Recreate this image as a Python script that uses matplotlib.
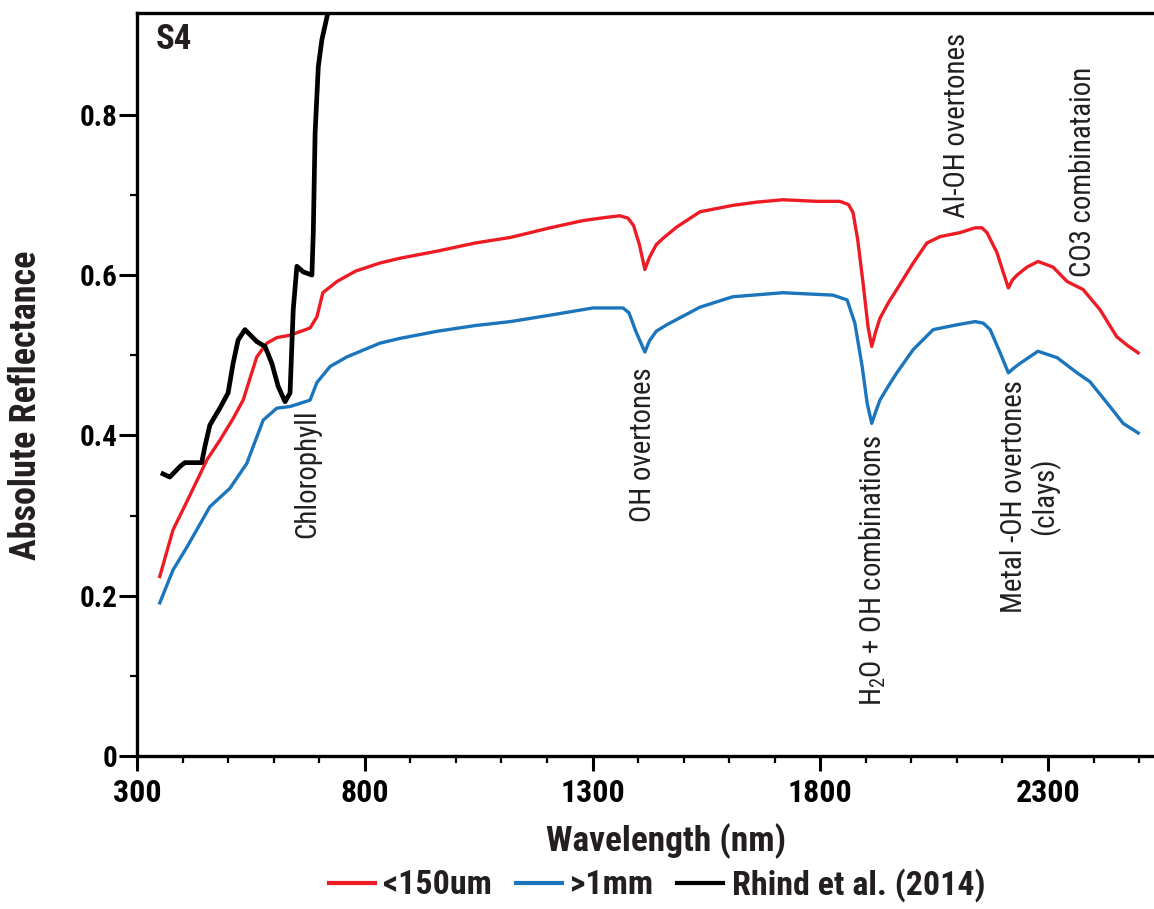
import matplotlib
matplotlib.use("Agg")
import matplotlib.pyplot as plt
from matplotlib import font_manager
from matplotlib.ticker import FixedLocator

# ---- data -------------------------------------------------------------
fine_nm = [350, 379, 410, 454, 482, 511, 533, 563, 585, 607, 636, 680, 695,
           708, 739, 780, 833, 877, 960, 1042, 1120, 1207, 1279, 1330, 1360,
           1378, 1390, 1403, 1415, 1425, 1440, 1455, 1485, 1536, 1608, 1660,
           1718, 1793, 1843, 1862, 1872, 1882, 1894, 1905, 1913, 1922, 1931,
           1950, 1968, 2004, 2034, 2063, 2107, 2140, 2155, 2166, 2188, 2202,
           2213, 2222, 2232, 2254, 2278, 2311, 2342, 2377, 2414, 2451, 2475,
           2498]
fine_refl = [0.224, 0.282, 0.318, 0.370, 0.394, 0.421, 0.444, 0.498, 0.515,
             0.522, 0.525, 0.534, 0.548, 0.578, 0.592, 0.605, 0.615, 0.621,
             0.630, 0.640, 0.647, 0.659, 0.668, 0.672, 0.674, 0.671, 0.662,
             0.638, 0.607, 0.622, 0.638, 0.646, 0.660, 0.679, 0.687, 0.691,
             0.694, 0.692, 0.692, 0.688, 0.678, 0.645, 0.590, 0.535, 0.511,
             0.530, 0.546, 0.566, 0.582, 0.615, 0.640, 0.648, 0.653, 0.659,
             0.659, 0.653, 0.628, 0.603, 0.584, 0.594, 0.600, 0.610, 0.617,
             0.610, 0.592, 0.582, 0.557, 0.523, 0.512, 0.503]

coarse_nm = [350, 379, 410, 460, 504, 541, 577, 607, 636, 680, 695, 724, 761,
             833, 877, 960, 1042, 1120, 1207, 1301, 1367, 1380, 1395, 1415,
             1425, 1440, 1463, 1536, 1608, 1718, 1828, 1859, 1876, 1892, 1903,
             1913, 1922, 1931, 1950, 1968, 2004, 2048, 2100, 2140, 2158, 2173,
             2195, 2213, 2225, 2239, 2278, 2320, 2364, 2392, 2436, 2465, 2498]
coarse_refl = [0.191, 0.232, 0.261, 0.311, 0.334, 0.365, 0.419, 0.434, 0.436,
               0.444, 0.466, 0.486, 0.498, 0.515, 0.521, 0.530, 0.537, 0.542,
               0.550, 0.559, 0.559, 0.553, 0.530, 0.504, 0.518, 0.530, 0.538,
               0.560, 0.573, 0.578, 0.575, 0.569, 0.540, 0.486, 0.440, 0.415,
               0.430, 0.444, 0.462, 0.478, 0.507, 0.532, 0.538, 0.542, 0.540,
               0.532, 0.503, 0.478, 0.484, 0.490, 0.505, 0.497, 0.478, 0.467,
               0.436, 0.415, 0.403]

rhind_nm = [357, 372, 394, 405, 442, 449, 460, 482, 500, 511, 522, 537, 563,
            581, 596, 610, 625, 636, 643, 651, 665, 684, 687, 691, 698, 706,
            719, 730]
rhind_refl = [0.352, 0.348, 0.361, 0.366, 0.366, 0.386, 0.413, 0.434, 0.453,
              0.490, 0.519, 0.532, 0.517, 0.511, 0.490, 0.461, 0.442, 0.453,
              0.557, 0.611, 0.604, 0.600, 0.653, 0.777, 0.860, 0.894, 0.927,
              0.960]

series_labels = ["<150um", ">1mm", "Rhind et al. (2014)"]
series_colors = ["#ED1C24", "#1B75BC", "#000000"]

x_major = [300, 800, 1300, 1800, 2300]
x_minor = [400, 500, 600, 700, 900, 1000, 1100, 1200, 1400, 1500, 1600,
           1700, 1900, 2000, 2100, 2200, 2400, 2500]
y_major = [0, 0.2, 0.4, 0.6, 0.8]
y_major_labels = ["0", "0.2", "0.4", "0.6", "0.8"]
y_minor = [0.1, 0.3, 0.5, 0.7]

# absorption feature labels: (wavelength, top of text, text)
features = [
    (673, 0.432, "Chlorophyll"),
    (1411, 0.485, "OH overtones"),
    (1914, 0.401, "H$_2$O + OH combinations"),
    (2260, 0.469, "Metal -OH overtones\n(clays)"),
    (2100, 0.902, "Al-OH overtones"),
    (2377, 0.860, "CO3 combinataion"),
]

# ---- fonts --------------------------------------------------------------
available = {f.name for f in font_manager.fontManager.ttflist}
narrow = [n for n in ("Liberation Sans Narrow", "Arial Narrow",
                      "Roboto Condensed", "Open Sans Condensed",
                      "Nimbus Sans Narrow") if n in available]
FONT = narrow[0] if narrow else "Liberation Sans"
SCALE = 1.0 if narrow else 0.9  # regular-width face needs a smaller size
plt.rcParams["font.family"] = [FONT, "DejaVu Sans"]
plt.rcParams["mathtext.fontset"] = "custom"
plt.rcParams["mathtext.rm"] = FONT
plt.rcParams["mathtext.it"] = FONT
plt.rcParams["mathtext.bf"] = FONT + ":bold"

TXT = "#231f20"

# ---- figure -------------------------------------------------------------
W, H = 1154, 909
fig = plt.figure(figsize=(W / 100, H / 100), dpi=100)
ax = fig.add_axes([137 / W, 153 / H, 1 - 137 / W, 743 / H])

ax.plot(fine_nm, fine_refl, color=series_colors[0], lw=2.4,
        label=series_labels[0], solid_joinstyle="round")
ax.plot(coarse_nm, coarse_refl, color=series_colors[1], lw=2.4,
        label=series_labels[1], solid_joinstyle="round")
ax.plot(rhind_nm, rhind_refl, color=series_colors[2], lw=3.4,
        label=series_labels[2], solid_joinstyle="round")

ax.set_xlim(300, 300 + (W - 137) / 0.4555)
ax.set_ylim(0, 0.927)

for side in ("left", "bottom", "top"):
    ax.spines[side].set_linewidth(2.4)
ax.spines["right"].set_visible(False)

ax.xaxis.set_major_locator(FixedLocator(x_major))
ax.xaxis.set_minor_locator(FixedLocator(x_minor))
ax.yaxis.set_major_locator(FixedLocator(y_major))
ax.yaxis.set_minor_locator(FixedLocator(y_minor))
ax.set_yticklabels(y_major_labels)

ax.tick_params(axis="x", which="major", length=11, width=2.2, pad=5,
               labelsize=23)
ax.tick_params(axis="x", which="minor", length=5, width=1.6)
ax.tick_params(axis="y", which="major", length=13, width=2.2, pad=1,
               labelsize=21)
ax.tick_params(axis="y", which="minor", length=5, width=1.6)
for lab in ax.get_xticklabels() + ax.get_yticklabels():
    lab.set_fontweight("bold")

fig.text(666 / W, 1 - 841 / H, "Wavelength (nm)", ha="center", va="center",
         fontsize=25.5 * SCALE, fontweight="bold", color=TXT)
fig.text(26 / W, 1 - 405 / H, "Absolute Reflectance", ha="center",
         va="center", rotation=90, fontsize=26 * SCALE, fontweight="bold",
         color=TXT)

ax.text(381, 0.894, "S4", ha="center", va="center", fontsize=25,
        fontweight="bold", color=TXT)

for wl, top, txt in features:
    ax.text(wl, top, txt, rotation=90, ha="center", va="top",
            multialignment="center", fontsize=20.8 * SCALE, color=TXT,
            linespacing=1.05)

leg = fig.legend(loc="center", bbox_to_anchor=(657 / W, 1 - 885 / H),
                 ncol=3, frameon=False, handlelength=1.35,
                 handletextpad=0.25, columnspacing=0.7,
                 prop={"weight": "bold", "size": 24.5 * SCALE})
for t in leg.get_texts():
    t.set_color(TXT)
for h in leg.legend_handles:
    h.set_linewidth(3)

fig.savefig("out.png", dpi=100)
